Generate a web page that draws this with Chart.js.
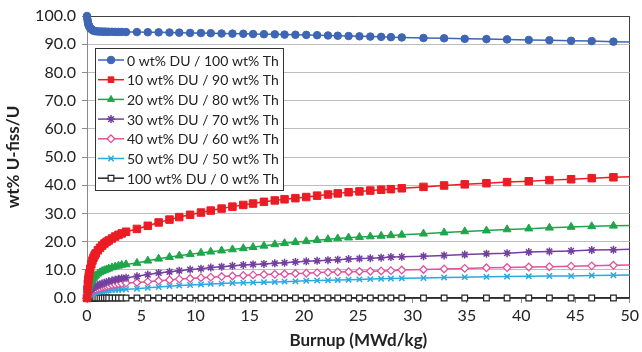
<!DOCTYPE html>
<html>
<head>
<meta charset="utf-8">
<script src="https://cdn.jsdelivr.net/npm/chart.js@4.4.1/dist/chart.umd.min.js"></script>
<style>
  html, body { margin: 0; padding: 0; background: #fff; }
  #wrap { width: 642px; height: 352px; }
</style>
</head>
<body>
<div id="wrap"><canvas id="burnupChart" width="642" height="352"></canvas></div>
<script>
// Burnup grid (MWd/kg)
const burnup = [
  0, 0.04, 0.08, 0.12, 0.16, 0.2, 0.3, 0.4, 0.5, 0.6, 0.7, 0.8, 1.0, 1.2, 1.4, 1.6, 1.8, 2.0, 2.3, 2.6, 2.9, 3.2, 3.6,
  4.6, 5.6, 6.6, 7.6, 8.5, 9.5, 10.5, 11.4, 12.4, 13.4, 14.4, 15.3, 16.3, 17.3, 18.2, 19.2, 20.2, 21.2, 22.2, 23.1,
  24.1, 25.1, 26.1, 27.1, 28.0, 29.0,
  31.0, 32.9, 34.8, 36.8, 38.7, 40.7, 42.6, 44.6, 46.5, 48.5, 50.5
];

// wt% U-fiss/U per composition
const du0 = [
  100, 98.8, 97.9, 97.2, 96.7, 96.3, 95.7, 95.3, 95.0, 94.8, 94.7, 94.6, 94.5, 94.5, 94.45, 94.45, 94.4, 94.4, 94.4, 94.35, 94.35, 94.35, 94.3,
  94.3, 94.25, 94.2, 94.15, 94.1, 94.0, 93.95, 93.9, 93.8, 93.75, 93.7, 93.6, 93.55, 93.5, 93.4, 93.35, 93.3, 93.2, 93.1, 93.0,
  92.9, 92.8, 92.7, 92.6, 92.5, 92.4,
  92.2, 92.1, 91.9, 91.8, 91.7, 91.5, 91.4, 91.2, 91.1, 90.9, 90.75
];
const du10 = [
  0, 3.0, 5.0, 6.5, 7.6, 8.6, 10.4, 12.0, 13.3, 14.3, 15.1, 15.8, 16.9, 17.8, 18.6, 19.3, 19.9, 20.4, 21.1, 21.8, 22.4, 22.9, 23.5,
  24.5, 25.6, 26.8, 27.8, 28.7, 29.5, 30.3, 31.0, 31.7, 32.4, 33.0, 33.5, 34.1, 34.6, 35.0, 35.4, 35.8, 36.3, 36.7, 37.1,
  37.5, 37.8, 38.1, 38.4, 38.6, 38.9,
  39.4, 39.9, 40.3, 40.7, 41.1, 41.4, 41.8, 42.1, 42.5, 42.8, 43.1
];
const du20 = [
  0, 1.5, 2.6, 3.4, 4.0, 4.5, 5.3, 6.0, 6.6, 7.1, 7.6, 8.0, 8.6, 9.1, 9.5, 9.8, 10.1, 10.4, 10.8, 11.1, 11.4, 11.7, 11.9,
  12.4, 13.2, 13.9, 14.5, 15.0, 15.5, 16.0, 16.4, 16.8, 17.2, 17.6, 18.0, 18.5, 19.0, 19.4, 19.8, 20.1, 20.5, 20.8, 21.1,
  21.4, 21.6, 21.8, 22.0, 22.2, 22.4,
  22.8, 23.2, 23.6, 23.9, 24.3, 24.6, 24.9, 25.2, 25.4, 25.6, 25.8
];
const du30 = [
  0, 0.8, 1.3, 1.7, 2.0, 2.3, 2.8, 3.2, 3.5, 3.8, 4.0, 4.2, 4.5, 4.8, 5.1, 5.4, 5.6, 5.9, 6.2, 6.5, 6.8, 7.0, 7.2,
  7.7, 8.3, 8.9, 9.3, 9.7, 10.1, 10.4, 10.8, 11.1, 11.4, 11.7, 11.9, 12.1, 12.3, 12.5, 12.8, 13.0, 13.2, 13.4, 13.6,
  13.8, 14.0, 14.1, 14.3, 14.5, 14.6,
  14.8, 15.1, 15.4, 15.7, 15.9, 16.3, 16.5, 16.7, 17.0, 17.1, 17.3
];
const du40 = [
  0, 0.6, 1.0, 1.3, 1.5, 1.7, 2.1, 2.4, 2.6, 2.8, 3.0, 3.1, 3.4, 3.6, 3.8, 4.0, 4.2, 4.4, 4.6, 4.8, 5.0, 5.1, 5.3,
  5.5, 5.8, 6.1, 6.4, 6.7, 6.9, 7.2, 7.4, 7.6, 7.8, 8.0, 8.2, 8.3, 8.4, 8.5, 8.7, 8.8, 9.0, 9.1, 9.2,
  9.3, 9.4, 9.5, 9.6, 9.7, 9.9,
  10.1, 10.3, 10.5, 10.7, 10.8, 11.0, 11.1, 11.3, 11.4, 11.6, 11.7
];
const du50 = [
  0, 0.35, 0.6, 0.8, 0.95, 1.05, 1.3, 1.5, 1.65, 1.8, 1.9, 2.0, 2.15, 2.3, 2.4, 2.5, 2.6, 2.7, 2.8, 2.9, 2.95, 3.0, 3.1,
  3.3, 3.6, 3.9, 4.2, 4.4, 4.6, 4.8, 5.0, 5.1, 5.3, 5.4, 5.5, 5.6, 5.7, 5.8, 5.9, 6.1, 6.2, 6.3, 6.4,
  6.5, 6.6, 6.7, 6.8, 6.9, 7.0,
  7.1, 7.3, 7.4, 7.5, 7.6, 7.7, 7.8, 7.8, 8.0, 8.1, 8.2
];
const du100 = [
  0, 0, 0, 0, 0, 0, 0, 0, 0, 0, 0, 0, 0, 0, 0, 0, 0, 0, 0, 0, 0, 0, 0,
  0, 0, 0, 0, 0, 0, 0, 0, 0, 0, 0, 0, 0, 0, 0, 0, 0, 0, 0, 0,
  0, 0, 0, 0, 0, 0,
  0, 0, 0, 0, 0, 0, 0, 0, 0, 0, 0
];

const seriesLabels = [
  '0 wt% DU / 100 wt% Th',
  '10 wt% DU / 90 wt% Th',
  '20 wt% DU / 80 wt% Th',
  '30 wt% DU / 70 wt% Th',
  '40 wt% DU / 60 wt% Th',
  '50 wt% DU / 50 wt% Th',
  '100 wt% DU / 0 wt% Th'
];
const seriesValues = [du0, du10, du20, du30, du40, du50, du100];

const xTitle = 'Burnup (MWd/kg)';
const yTitle = 'wt% U-fiss/U';

// marker look for each series
const styles = [
  { color: '#3F66B4', point: 'circle',   radius: 3.8, fill: '#3F66B4', bw: 1 },
  { color: '#EC1C24', point: 'rect',     radius: 5.3, fill: '#EC1C24', bw: 1 },
  { color: '#1FA54A', point: 'triangle', radius: 4.6, fill: '#1FA54A', bw: 1 },
  { color: '#7440A0', point: 'star',     radius: 4,   fill: '#7440A0', bw: 1.5 },
  { color: '#E0529C', point: 'rectRot',  radius: 3.8, fill: '#ffffff', bw: 1.3 },
  { color: '#2AA8E0', point: 'crossRot', radius: 3.8, fill: '#2AA8E0', bw: 1.5 },
  { color: '#262626', point: 'rect',     radius: 4,   fill: '#ffffff', bw: 1.2 }
];

const FONT = 'Lato';
Chart.defaults.font.family = FONT;
Chart.defaults.font.size = 16;
Chart.defaults.color = '#222';

function makeDatasets() {
  return seriesValues.map((vals, i) => {
    const s = styles[i];
    return {
      label: seriesLabels[i],
      data: vals.map((v, j) => ({ x: burnup[j], y: v })),
      borderColor: s.color,
      borderWidth: 1.5,
      pointStyle: s.point,
      pointRadius: s.radius,
      pointBackgroundColor: s.fill,
      pointBorderColor: s.color,
      pointBorderWidth: s.bw,
      tension: 0,
      fill: false,
      clip: { left: 6, top: 6, right: 0, bottom: 6 }
    };
  });
}

// legend drawn inside the plot area, over the lines
const innerLegend = {
  id: 'innerLegend',
  afterDatasetsDraw(chart) {
    const ctx = chart.ctx;
    const area = chart.chartArea;
    const left = area.left + 8, top = area.top + 32, w = 188, h = 142, row = 19.7;
    ctx.save();
    ctx.fillStyle = '#fff';
    ctx.fillRect(left, top, w, h);
    ctx.strokeStyle = '#333';
    ctx.lineWidth = 1;
    ctx.strokeRect(left + 0.5, top + 0.5, w, h);
    chart.data.datasets.forEach((ds, i) => {
      const y = top + 12 + i * row;
      ctx.strokeStyle = ds.borderColor;
      ctx.lineWidth = 1.5;
      ctx.beginPath();
      ctx.moveTo(left + 3, y);
      ctx.lineTo(left + 29, y);
      ctx.stroke();
      ctx.fillStyle = ds.pointBackgroundColor;
      ctx.strokeStyle = ds.pointBorderColor;
      ctx.lineWidth = ds.pointBorderWidth;
      Chart.helpers.drawPoint(ctx, {
        pointStyle: ds.pointStyle,
        radius: Math.min(ds.pointRadius, 4),
        rotation: 0,
        borderWidth: ds.pointBorderWidth
      }, left + 16, y);
      ctx.fillStyle = '#222';
      ctx.textBaseline = 'middle';
      ctx.textAlign = 'left';
      ctx.font = '14px ' + FONT;
      ctx.fillText(ds.label, left + 32, y + 1);
    });
    ctx.restore();
  }
};

new Chart(document.getElementById('burnupChart').getContext('2d'), {
  type: 'line',
  data: { datasets: makeDatasets() },
  plugins: [innerLegend],
  options: {
    responsive: false,
    animation: false,
    events: [],
    layout: { padding: { left: 0, right: 9, top: 16, bottom: 0 } },
    plugins: {
      legend: { display: false },
      tooltip: { enabled: false }
    },
    scales: {
      x: {
        type: 'linear',
        min: 0,
        max: 50,
        ticks: { stepSize: 5, padding: 3, maxRotation: 0 },
        grid: {
          color: c => (c.tick && c.tick.value === 50) ? '#404040' : 'rgba(0,0,0,0)',
          tickColor: '#8a8a8a',
          tickLength: 5
        },
        border: { color: '#404040', width: 1.2 },
        title: {
          display: true,
          text: xTitle,
          font: { size: 17, weight: 'bold' },
          padding: { top: 4, bottom: 1 }
        },
        afterFit: s => { s.height = 54; }
      },
      y: {
        min: 0,
        max: 100,
        ticks: { stepSize: 10, padding: 6, callback: v => v.toFixed(1) },
        grid: {
          color: c => (c.tick && c.tick.value === 100) ? '#404040' : '#bdbdbd',
          tickColor: '#8a8a8a',
          tickLength: 5
        },
        border: { color: '#8a8a8a', width: 1 },
        title: {
          display: true,
          text: yTitle,
          font: { size: 17, weight: 'bold' },
          padding: { top: 3, bottom: 4 }
        },
        afterFit: s => { s.width = 87; }
      }
    }
  }
});
</script>
</body>
</html>
